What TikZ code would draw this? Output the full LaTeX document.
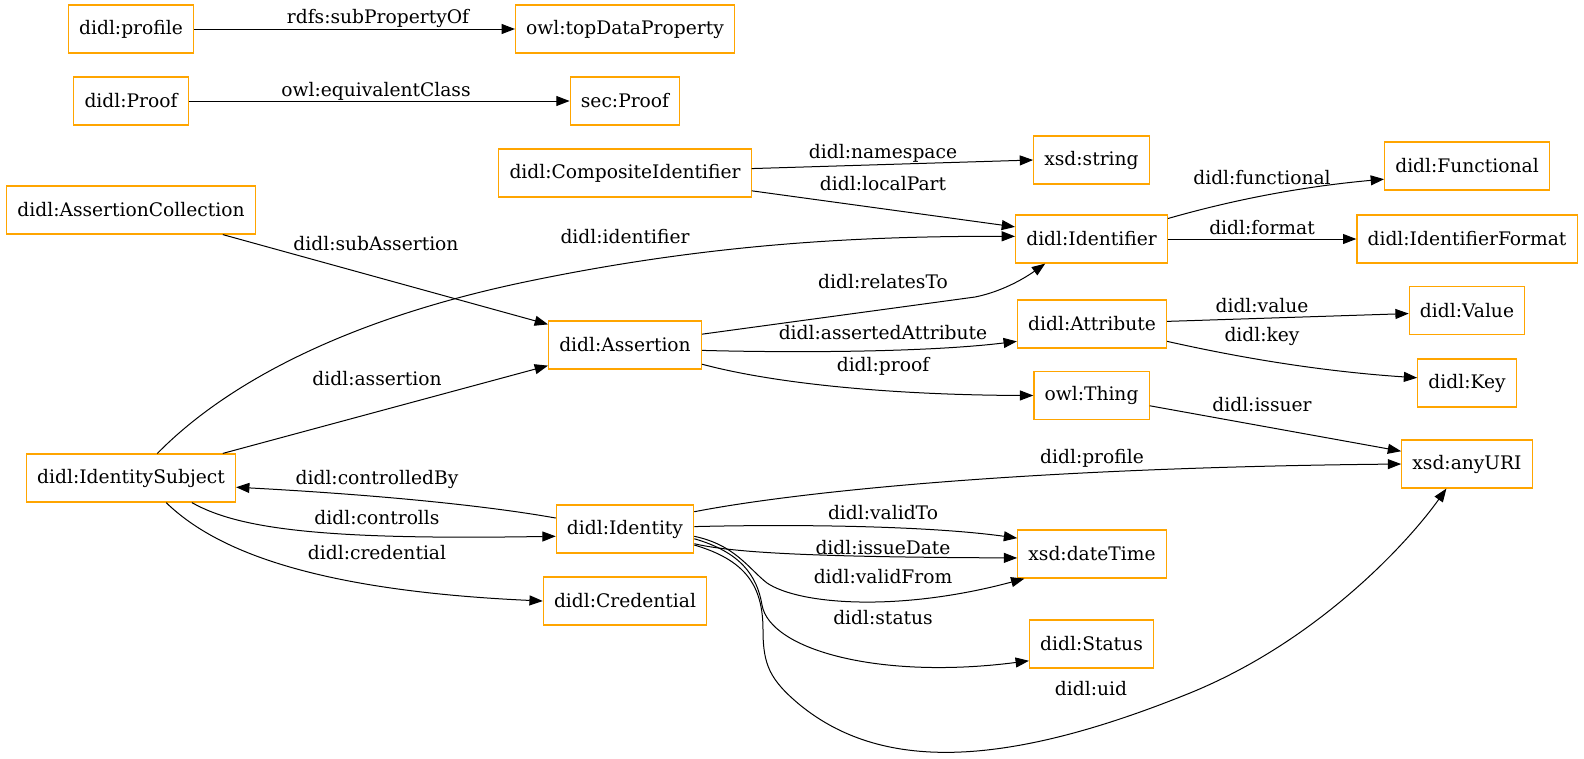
\documentclass[tikz,border=0pt]{standalone}
\usepackage{fontspec}
\setmainfont{DejaVu Serif}
\usetikzlibrary{arrows.meta}

\definecolor{clsorange}{HTML}{FFA500}

\begin{document}
\begin{tikzpicture}[x=0.75pt,y=-0.75pt,
  font=\fontsize{14pt}{16pt}\selectfont,
  cls/.style={draw=clsorange,line width=0.9pt,minimum height=36pt,inner xsep=8pt,inner ysep=2pt},
  rel/.style={line width=0.75pt,-{Triangle[length=10pt,width=7.5pt]}},
  lbl/.style={inner sep=1pt}]
\useasboundingbox (0,0) rectangle (1584,758);

% first column
\node[cls] (profile) at (131,29) {didl:profile};
\node[cls] (proof) at (131,101) {didl:Proof};
\node[cls] (asscoll) at (131,210) {didl:AssertionCollection};
\node[cls] (subj) at (131,478) {didl:IdentitySubject};

% second column
\node[cls] (topdp) at (625,29) {owl:topDataProperty};
\node[cls] (secproof) at (625,101) {sec:Proof};
\node[cls] (compid) at (625,173) {didl:CompositeIdentifier};
\node[cls] (assertion) at (625,345) {didl:Assertion};
\node[cls] (identity) at (625,529) {didl:Identity};
\node[cls] (credential) at (625,601) {didl:Credential};

% third column
\node[cls] (string) at (1091.5,160) {xsd:string};
\node[cls] (identifier) at (1091.5,239) {didl:Identifier};
\node[cls] (attribute) at (1092,324) {didl:Attribute};
\node[cls] (thing) at (1091.5,395.5) {owl:Thing};
\node[cls] (datetime) at (1092,554) {xsd:dateTime};
\node[cls] (status) at (1091.5,644) {didl:Status};

% fourth column
\node[cls] (functional) at (1467,166) {didl:Functional};
\node[cls] (idformat) at (1467,239) {didl:IdentifierFormat};
\node[cls] (value) at (1467,310.5) {didl:Value};
\node[cls] (key) at (1467,383) {didl:Key};
\node[cls] (anyuri) at (1467,464) {xsd:anyURI};

% properties
\draw[rel] (profile) -- (topdp);
\draw[rel] (proof) -- (secproof);
\draw[rel] (compid.2) -- (string.west);
\draw[rel] (compid.-8) -- (identifier.171);
\draw[rel] (asscoll.-15) -- (assertion.165);
\draw[rel] (subj.43) .. controls (200,410) and (300,330) .. (520,283) .. controls (700,245) and (850,236) .. (identifier.178);
\draw[rel] (subj.15) -- (assertion.-165);
\draw[rel] (assertion.8) -- (975,297) .. controls (1000,292) and (1022,280) .. (identifier.208);
\draw[rel] (assertion.-4) .. controls (800,353) and (930,352) .. (attribute.193);
\draw[rel] (assertion.-14) .. controls (780,385) and (900,395) .. (thing.west);
\draw[rel] (identifier.15) .. controls (1250,195) and (1320,185) .. (functional.189);
\draw[rel] (identifier) -- (idformat);
\draw[rel] (attribute.2) -- (value.183);
\draw[rel] (attribute.-13) .. controls (1250,360) and (1330,372) .. (key.174);
\draw[rel] (thing.-10) -- (anyuri.169);
\draw[rel] (identity.14) .. controls (780,495) and (1000,468) .. (anyuri.west);
\draw[rel] (identity.2) .. controls (800,524) and (930,526) .. (datetime.168);
\draw[rel] (identity.-12) .. controls (730,552) and (800,557) .. (datetime.183);
\draw[rel] (identity.-6) .. controls (735,545) and (748,568) .. (767,583) .. controls (800,605) and (900,612) .. (datetime.200);
\draw[rel] (identity.-8) .. controls (740,552) and (757,575) .. (762,605) .. controls (770,650) and (880,680) .. (status.195);
\draw[rel] (identity.-13) .. controls (745,560) and (763,585) .. (763,630) .. controls (763,665) and (770,680) .. (800,705) .. controls (880,770) and (1000,770) .. (1190,693) .. controls (1320,640) and (1410,540) .. (anyuri.230);
\draw[rel] (identity.171) .. controls (500,508) and (400,496) .. (subj.-5);
\draw[rel] (subj.-22) .. controls (240,530) and (330,540) .. (identity.186);
\draw[rel] (subj.-35) .. controls (210,545) and (300,590) .. (credential.west);

% property labels
\node[lbl] (lsubprop) at (378,18) {rdfs:subPropertyOf};
\node[lbl] (lequiv) at (376,91) {owl:equivalentClass};
\node[lbl] (lnamespace) at (883,153) {didl:namespace};
\node[lbl] (llocal) at (883,184) {didl:localPart};
\node[lbl] (lsubass) at (376,244) {didl:subAssertion};
\node[lbl] (lidentifier) at (625,237) {didl:identifier};
\node[lbl] (lassertion) at (377,379) {didl:assertion};
\node[lbl] (lrelates) at (883,282) {didl:relatesTo};
\node[lbl] (lattr) at (883,333) {didl:assertedAttribute};
\node[lbl] (lproof) at (883,366) {didl:proof};
\node[lbl] (lfunctional) at (1262,178) {didl:functional};
\node[lbl] (lformat) at (1262,228) {didl:format};
\node[lbl] (lvalue) at (1262,306) {didl:value};
\node[lbl] (lkey) at (1262,336) {didl:key};
\node[lbl] (lissuer) at (1262,405) {didl:issuer};
\node[lbl] (lprofile) at (1092,458) {didl:profile};
\node[lbl] (lvalidto) at (883,513) {didl:validTo};
\node[lbl] (lissue) at (883,548) {didl:issueDate};
\node[lbl] (lvalidfrom) at (883,577) {didl:validFrom};
\node[lbl] (lstatus) at (883,618) {didl:status};
\node[lbl] (luid) at (1091,689) {didl:uid};
\node[lbl] (lctrlby) at (377,479) {didl:controlledBy};
\node[lbl] (lctrls) at (377,518) {didl:controlls};
\node[lbl] (lcred) at (377,553) {didl:credential};
\end{tikzpicture}
\end{document}
